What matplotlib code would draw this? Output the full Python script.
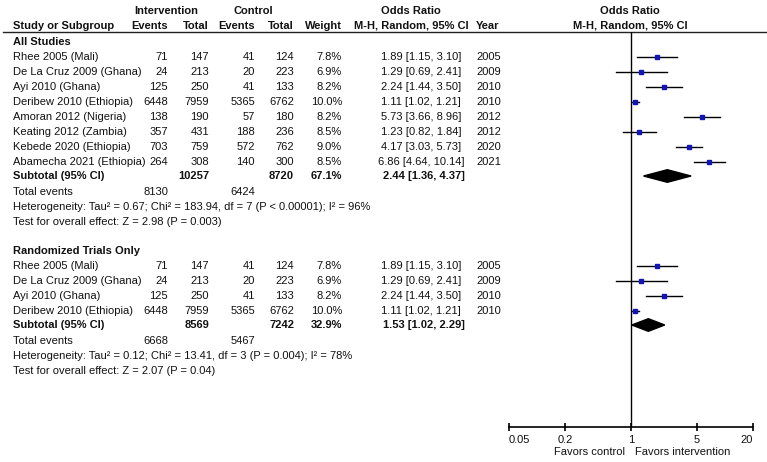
import matplotlib.pyplot as plt
from matplotlib.patches import Polygon

plt.rcParams['font.family'] = ['Liberation Sans', 'DejaVu Sans']

# Study data (All Studies); the randomized trials are the first four
studies = ["Rhee 2005 (Mali)", "De La Cruz 2009 (Ghana)", "Ayi 2010 (Ghana)",
           "Deribew 2010 (Ethiopia)", "Amoran 2012 (Nigeria)", "Keating 2012 (Zambia)",
           "Kebede 2020 (Ethiopia)", "Abamecha 2021 (Ethiopia)"]
int_events = [71, 24, 125, 6448, 138, 357, 703, 264]
int_total = [147, 213, 250, 7959, 190, 431, 759, 308]
ctl_events = [41, 20, 41, 5365, 57, 188, 572, 140]
ctl_total = [124, 223, 133, 6762, 180, 236, 762, 300]
weights = [7.8, 6.9, 8.2, 10.0, 8.2, 8.5, 9.0, 8.5]
odds = [1.89, 1.29, 2.24, 1.11, 5.73, 1.23, 4.17, 6.86]
ci_lo = [1.15, 0.69, 1.44, 1.02, 3.66, 0.82, 3.03, 4.64]
ci_hi = [3.10, 2.41, 3.50, 1.21, 8.96, 1.84, 5.73, 10.14]
years = [2005, 2009, 2010, 2010, 2012, 2012, 2020, 2021]
rct_idx = [0, 1, 2, 3]

# Subgroup summaries
groups = ["All Studies", "Randomized Trials Only"]
sub_int_total = [10257, 8569]
sub_ctl_total = [8720, 7242]
sub_weight = [67.1, 32.9]
sub_or = [2.44, 1.53]
sub_lo = [1.36, 1.02]
sub_hi = [4.37, 2.29]
tot_int_events = [8130, 6668]
tot_ctl_events = [6424, 5467]
heterogeneity = ["Heterogeneity: Tau\u00b2 = 0.67; Chi\u00b2 = 183.94, df = 7 (P < 0.00001); I\u00b2 = 96%",
                 "Heterogeneity: Tau\u00b2 = 0.12; Chi\u00b2 = 13.41, df = 3 (P = 0.004); I\u00b2 = 78%"]
overall = ["Test for overall effect: Z = 2.98 (P = 0.003)",
           "Test for overall effect: Z = 2.07 (P = 0.04)"]

W, H = 767, 462
fig = plt.figure(figsize=(W / 100, H / 100), dpi=100)

# table axes in pixel coordinates
tab = fig.add_axes([0, 0, 1, 1])
tab.set_xlim(0, W)
tab.set_ylim(H, 0)
tab.axis('off')

# forest axes sharing the same vertical pixel rows
x0, x1, y_top, y_bot = 509, 753, 32, 427
ax = fig.add_axes([x0 / W, 1 - y_bot / H, (x1 - x0) / W, (y_bot - y_top) / H])
ax.patch.set_alpha(0)
ax.set_xscale('log')
ax.set_xlim(0.05, 20)
ax.set_ylim(y_bot, y_top)

fs = 8
tc = '#111111'

def t(x, y, s, ha='right', bold=False, size=fs):
    tab.text(x, y, s, ha=ha, va='center', fontsize=size, color=tc,
             fontweight='bold' if bold else 'normal')

# column positions (right edges)
c_ie, c_it, c_ce, c_ct, c_w, c_or, c_yr = 168, 209, 255, 294, 342, 421, 476

# headers
t(166, 11, "Intervention", ha='center', bold=True)
t(253, 11, "Control", ha='center', bold=True)
t(411, 11, "Odds Ratio", ha='center', bold=True)
t(630, 11, "Odds Ratio", ha='center', bold=True)
t(13, 26, "Study or Subgroup", ha='left', bold=True)
t(c_ie, 26, "Events", bold=True)
t(c_it, 26, "Total", bold=True)
t(c_ce, 26, "Events", bold=True)
t(c_ct, 26, "Total", bold=True)
t(c_w, 26, "Weight", bold=True)
t(411, 26, "M-H, Random, 95% CI", ha='center', bold=True)
t(c_yr, 26, "Year", ha='left', bold=True)
t(630, 26, "M-H, Random, 95% CI", ha='center', bold=True)
tab.plot([3, W], [32, 32], color='#222222', lw=1)

group_rows = [[list(range(8)), 42], [rct_idx, 251]]
sq_color = '#1414b4'

for g, (idx, y0) in enumerate(group_rows):
    t(13, y0, groups[g], ha='left', bold=True)
    y = y0
    for i in idx:
        y += 15
        t(13, y, studies[i], ha='left')
        t(c_ie, y, str(int_events[i]))
        t(c_it, y, str(int_total[i]))
        t(c_ce, y, str(ctl_events[i]))
        t(c_ct, y, str(ctl_total[i]))
        t(c_w, y, f"{weights[i]:.1f}%")
        t(c_or, y, f"{odds[i]:.2f} [{ci_lo[i]:.2f}, {ci_hi[i]:.2f}]", ha='center')
        t(c_yr, y, str(years[i]), ha='left')
        ax.plot([ci_lo[i], ci_hi[i]], [y, y], color='black', lw=1)
        ax.plot(odds[i], y, marker='s', ms=weights[i] * 0.33, color=sq_color, mec=sq_color)
    y += 14
    t(13, y, "Subtotal (95% CI)", ha='left', bold=True)
    t(c_it, y, str(sub_int_total[g]), bold=True)
    t(c_ct, y, str(sub_ctl_total[g]), bold=True)
    t(c_w, y, f"{sub_weight[g]:.1f}%", bold=True)
    t(c_or + 3, y, f"{sub_or[g]:.2f} [{sub_lo[g]:.2f}, {sub_hi[g]:.2f}]", ha='center', bold=True)
    h = 6.3
    ax.add_patch(Polygon([(sub_lo[g], y), (sub_or[g], y - h), (sub_hi[g], y), (sub_or[g], y + h)],
                         closed=True, color='black'))
    y += 16
    t(13, y, "Total events", ha='left')
    t(c_ie, y, str(tot_int_events[g]))
    t(c_ce, y, str(tot_ctl_events[g]))
    t(13, y + 15, heterogeneity[g], ha='left')
    t(13, y + 30, overall[g], ha='left')

# forest axis styling
ax.axvline(1, color='black', lw=1)
for s in ['top', 'left', 'right']:
    ax.spines[s].set_visible(False)
ax.spines['bottom'].set_linewidth(1.2)
ax.set_yticks([])
ticks = [0.05, 0.2, 1, 5, 20]
ax.set_xticks(ticks)
ax.set_xticklabels(['0.05', '0.2', '1', '5', '20'], fontsize=fs, color=tc)
ax.minorticks_off()
ax.tick_params(axis='x', direction='inout', length=6, width=1.2, pad=3)
labels = ax.get_xticklabels()
labels[0].set_ha('left')
labels[-1].set_ha('right')

t(625, 452, "Favors control")
t(635, 452, "Favors intervention", ha='left')

fig.savefig('out.png', dpi=100)
